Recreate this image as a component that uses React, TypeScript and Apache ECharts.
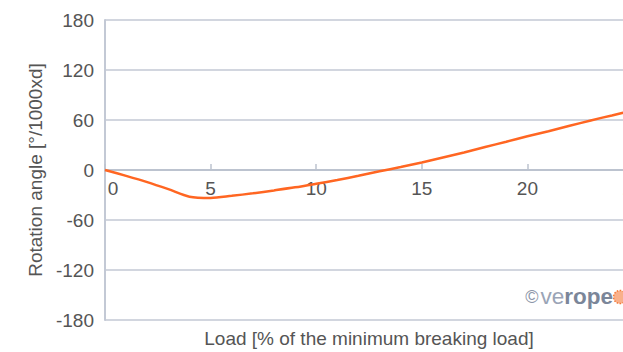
import React, { useEffect, useRef } from "react";
import * as echarts from "echarts";

const loadValues: number[] = [0, 1, 2, 3, 4, 5, 6, 7, 8, 9, 10, 11, 12, 13, 14, 15, 16, 17, 18, 19, 20, 21, 22, 23, 24, 25];
const rotationValues: number[] = [0, -7, -14.5, -23, -32, -33.5, -31, -28, -24.5, -20.8, -16.5, -12, -7, -1.5, 3.5, 9, 15, 21, 27.5, 34, 40.5, 46.5, 53, 59.5, 65.5, 71.5];
const xAxisName = "Load [% of the minimum breaking load]";
const yAxisName = "Rotation angle [°/1000xd]";

const FONT = "'Liberation Sans', Arial, Helvetica, sans-serif";
const GRID_COLOR = "#c3c9d5";
const TEXT_COLOR = "#555555";

export default function App() {
  const ref = useRef<HTMLDivElement>(null);
  useEffect(() => {
    if (!ref.current) return;
    const chart = echarts.init(ref.current, undefined, { renderer: "svg" });
    chart.setOption({
      animation: false,
      backgroundColor: "#ffffff",
      textStyle: { fontFamily: FONT },
      grid: { left: 105, right: 17, top: 20, bottom: 32, containLabel: false, outerBoundsMode: "none" },
      xAxis: {
        type: "value",
        min: 0,
        max: 25,
        interval: 5,
        axisLine: { onZero: true, lineStyle: { color: "#bcc3cf", width: 2 } },
        axisTick: { show: true, inside: true, length: 6, lineStyle: { color: "#bcc3cf", width: 1.5 } },
        splitLine: { show: false },
        axisLabel: {
          color: TEXT_COLOR,
          fontSize: 19,
          fontFamily: FONT,
          margin: -141,
          formatter: (v: number) => (v === 0 ? "{z|0}" : String(v)),
          rich: { z: { padding: [0, 0, 0, 16], fontSize: 19, color: TEXT_COLOR, fontFamily: FONT } },
        },
        name: xAxisName,
        nameLocation: "middle",
        nameGap: 9,
        nameTextStyle: { color: TEXT_COLOR, fontSize: 19, fontFamily: FONT },
      },
      yAxis: {
        type: "value",
        min: -180,
        max: 180,
        interval: 60,
        axisLine: { show: true, onZero: false, lineStyle: { color: GRID_COLOR, width: 2 } },
        axisTick: { show: false },
        splitLine: { show: true, lineStyle: { color: GRID_COLOR, width: 1.5 } },
        axisLabel: { color: TEXT_COLOR, fontSize: 19, fontFamily: FONT, margin: 11 },
        name: yAxisName,
        nameLocation: "middle",
        nameRotate: 90,
        nameGap: 57,
        nameTextStyle: { color: TEXT_COLOR, fontSize: 19, fontFamily: FONT },
      },
      series: [
        {
          type: "line",
          data: loadValues.map((x, i) => [x, rotationValues[i]]),
          smooth: 0.3,
          showSymbol: false,
          lineStyle: { color: "#ff6622", width: 2.5 },
        },
      ],
      graphic: [
        {
          type: "text",
          right: 37,
          top: 285,
          style: {
            text: "{c|©}{a|ve}{b|rope}",
            rich: {
              c: { fontSize: 18, fill: "#8c96a8", fontFamily: FONT, padding: [0, 2, 0, 0] },
              a: { fontSize: 22.5, fill: "#9aa4b6", fontFamily: FONT },
              b: { fontSize: 22.5, fill: "#7b8699", fontWeight: "bold", fontFamily: FONT },
            },
          },
        },
        {
          type: "circle",
          shape: { cx: 620, cy: 297, r: 6.5 },
          style: { fill: "#f9b08a", stroke: "#f47a3a", lineWidth: 1.5, lineDash: [1.5, 1.5] },
        },
      ],
    });
    return () => chart.dispose();
  }, []);
  return (
    <div
      ref={ref}
      style={{ position: "fixed", left: 0, top: 0, width: 650, height: 352, background: "#fff" }}
    />
  );
}
